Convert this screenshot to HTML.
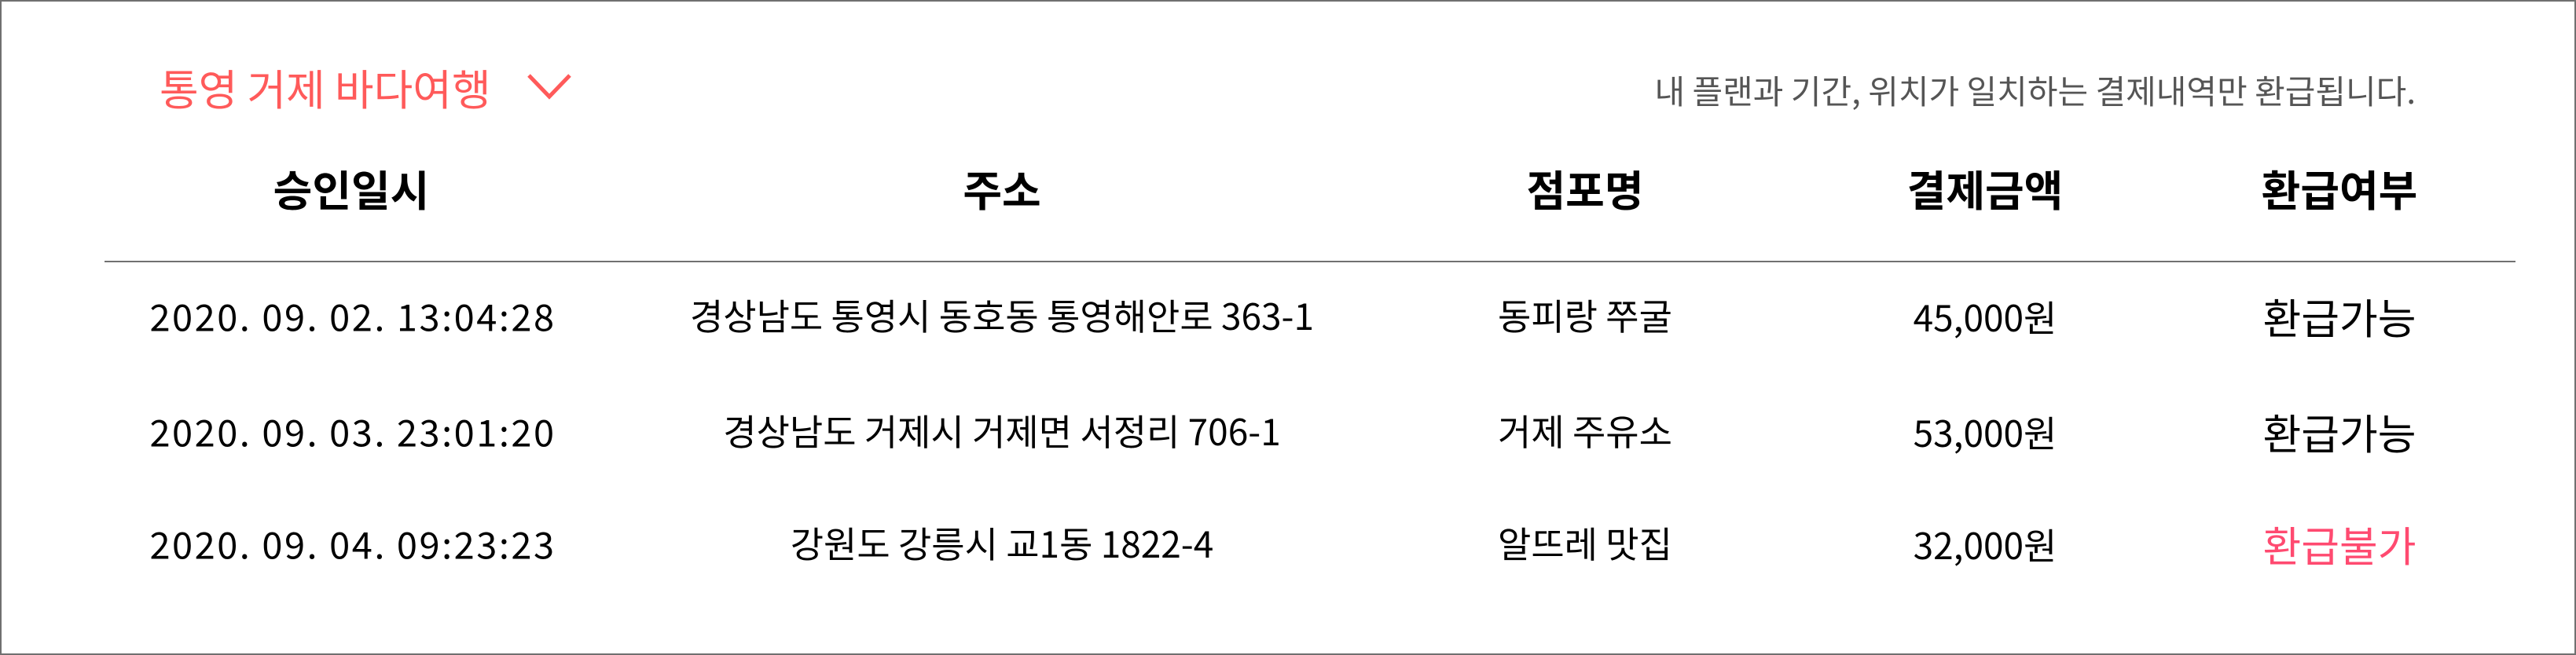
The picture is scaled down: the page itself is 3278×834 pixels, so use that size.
<!DOCTYPE html>
<html><head><meta charset="utf-8"><style>
html,body{margin:0;padding:0;background:#fff;}
#wrap{position:relative;width:3274px;height:830px;border:2px solid #707070;overflow:hidden;font-family:"Liberation Sans","Noto Sans CJK KR",sans-serif;}
.c{position:absolute;transform:translate(-50%,-50%);white-space:nowrap;font-family:"Noto Sans CJK KR","Liberation Sans",sans-serif;}
.h{font-size:54px;font-weight:bold;color:#000;}
.r{font-size:46px;color:#000;}
.d{font-size:47px;letter-spacing:2.5px;color:#000;}
.s{font-size:53px;color:#000;}
</style></head><body>
<div id="wrap">
<div style="position:absolute;left:201px;top:70px;height:76px;display:flex;align-items:center;cursor:pointer;">
<span style="font-family:'Noto Sans CJK KR',sans-serif;font-size:54px;color:#ff5a5a;white-space:nowrap;">통영 거제 바다여행</span>
<svg width="56" height="34" style="margin-left:46px" viewBox="0 0 56 34"><polyline points="2,3 28,30 54,3" fill="none" stroke="#ff5a5a" stroke-width="5"/></svg>
</div>
<div style="position:absolute;right:202px;top:82px;font-family:'Noto Sans CJK KR',sans-serif;font-size:42px;color:#555;white-space:nowrap;">내 플랜과 기간, 위치가 일치하는 결제내역만 환급됩니다.</div>
<div class="c h" style="left:445px;top:237px">승인일시</div>
<div class="c h" style="left:1273px;top:237px">주소</div>
<div class="c h" style="left:2015px;top:237px">점포명</div>
<div class="c h" style="left:2524px;top:237px">결제금액</div>
<div class="c h" style="left:2975px;top:237px">환급여부</div>
<div style="position:absolute;left:131px;top:330px;width:3068px;height:2px;background:#707070"></div>

<div class="c d" style="left:447px;top:399px">2020. 09. 02. 13:04:28</div>
<div class="c r" style="left:1273px;top:399px">경상남도 통영시 동호동 통영해안로 363-1</div>
<div class="c r" style="left:2015px;top:399px">동피랑 쭈굴</div>
<div class="c r" style="left:2524px;top:401px">45,000원</div>
<div class="c s" style="left:2975px;top:401px">환급가능</div>

<div class="c d" style="left:447px;top:546px">2020. 09. 03. 23:01:20</div>
<div class="c r" style="left:1273px;top:546px">경상남도 거제시 거제면 서정리 706-1</div>
<div class="c r" style="left:2015px;top:546px">거제 주유소</div>
<div class="c r" style="left:2524px;top:548px">53,000원</div>
<div class="c s" style="left:2975px;top:548px">환급가능</div>

<div class="c d" style="left:447px;top:689px">2020. 09. 04. 09:23:23</div>
<div class="c r" style="left:1273px;top:689px">강원도 강릉시 교1동 1822-4</div>
<div class="c r" style="left:2015px;top:689px">알뜨레 맛집</div>
<div class="c r" style="left:2524px;top:691px">32,000원</div>
<div class="c s" style="left:2975px;top:691px;color:#ff4a70">환급불가</div>
</div>
</body></html>
